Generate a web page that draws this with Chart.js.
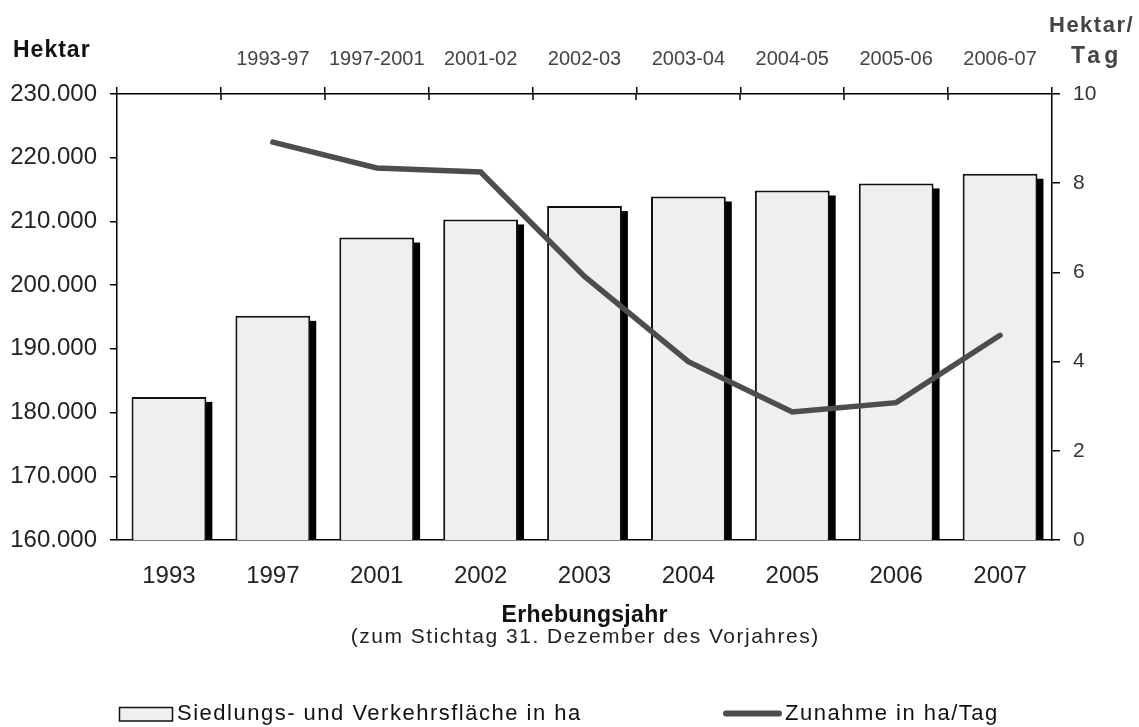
<!DOCTYPE html>
<html>
<head>
    <title>Siedlungs- und Verkehrsfläche</title>
    <script src="https://cdn.jsdelivr.net/npm/chart.js"></script>
    <style>
        body {
            margin: 0;
            background-color: #fff;
        }
    </style>
</head>
<body>
    <canvas id="chart" width="1139" height="727"></canvas>

    <script>
        // Erhebungsjahre (unten) und Zeiträume (oben)
        const years = ['1993', '1997', '2001', '2002', '2003', '2004', '2005', '2006', '2007'];
        const periods = ['', '1993-97', '1997-2001', '2001-02', '2002-03', '2003-04', '2004-05', '2005-06', '2006-07'];

        // Siedlungs- und Verkehrsfläche in ha
        const flaeche = [182460, 195180, 207470, 210310, 212410, 213920, 214860, 215960, 217480];
        // Zunahme in ha/Tag (gehört zum Zeitraum über dem jeweiligen Jahr)
        const zunahme = [null, 8.92, 8.34, 8.25, 5.91, 4.0, 2.87, 3.08, 4.59];

        const FONT = '"Liberation Sans", Arial, sans-serif';

        function drawText(ctx, text, x, y, font, color, spacing, align) {
            ctx.save();
            ctx.font = font;
            ctx.fillStyle = color;
            ctx.letterSpacing = spacing + 'px';
            ctx.textBaseline = 'alphabetic';
            let w = ctx.measureText(text).width - spacing;
            if (align === 'center') x -= w / 2;
            ctx.textAlign = 'left';
            ctx.fillText(text, x, y);
            ctx.restore();
        }

        // schwarzer Schatten rechts neben den Säulen
        const barShadow = {
            id: 'barShadow',
            beforeDatasetDraw(chart, args) {
                if (args.index !== 0) return;
                const ctx = chart.ctx;
                const base = chart.scales.y.getPixelForValue(chart.scales.y.min);
                ctx.save();
                ctx.fillStyle = '#000';
                args.meta.data.forEach(bar => {
                    const right = bar.x + bar.width / 2;
                    ctx.fillRect(right - 1, bar.y + 5, 7, base - bar.y - 5);
                });
                ctx.restore();
            }
        };

        // Titel, Achsentitel, Legende, innere Tickstriche oben
        const extras = {
            id: 'extras',
            afterDraw(chart) {
                const ctx = chart.ctx;
                const area = chart.chartArea;
                const x2 = chart.scales.x2;

                ctx.save();
                ctx.strokeStyle = '#000';
                ctx.lineWidth = 1.5;
                const step = x2.getPixelForValue(1) - x2.getPixelForValue(0);
                for (let i = 0; i < periods.length - 1; i++) {
                    const px = Math.round(x2.getPixelForValue(i) + step / 2);
                    ctx.beginPath();
                    ctx.moveTo(px, area.top);
                    ctx.lineTo(px, area.top + 6);
                    ctx.stroke();
                }
                ctx.restore();

                drawText(ctx, 'Hektar', 13, 57, 'bold 23px ' + FONT, '#111', 1);
                drawText(ctx, 'Hektar/', 1049, 32, 'bold 22px ' + FONT, '#444', 1.5);
                drawText(ctx, 'Tag', 1071, 63, 'bold 23px ' + FONT, '#444', 4);

                const cx = (area.left + area.right) / 2;
                drawText(ctx, 'Erhebungsjahr', cx, 622, 'bold 23px ' + FONT, '#111', 0.3, 'center');
                drawText(ctx, '(zum Stichtag 31. Dezember des Vorjahres)', cx, 643, '21px ' + FONT, '#222', 1.5, 'center');

                // Legende
                const ds = chart.data.datasets;
                ctx.save();
                ctx.fillStyle = '#efefef';
                ctx.strokeStyle = '#111';
                ctx.lineWidth = 1.5;
                ctx.fillRect(119.5, 707.5, 53, 13.5);
                ctx.strokeRect(119.5, 707.5, 53, 13.5);
                ctx.strokeStyle = '#4d4d4d';
                ctx.lineWidth = 6;
                ctx.lineCap = 'round';
                ctx.beginPath();
                ctx.moveTo(726, 713.5);
                ctx.lineTo(779, 713.5);
                ctx.stroke();
                ctx.restore();
                drawText(ctx, ds[0].label, 177, 719.5, '22px ' + FONT, '#111', 1.5);
                drawText(ctx, ds[1].label, 785, 719.5, '22px ' + FONT, '#111', 1.5);
            }
        };

        const ctx = document.getElementById('chart').getContext('2d');
        new Chart(ctx, {
            data: {
                labels: years,
                datasets: [{
                    type: 'bar',
                    label: 'Siedlungs- und Verkehrsfläche in ha',
                    data: flaeche,
                    yAxisID: 'y',
                    xAxisID: 'x',
                    backgroundColor: '#efefef',
                    borderColor: '#111',
                    borderWidth: 2,
                    barPercentage: 0.72,
                    categoryPercentage: 1.0,
                    order: 1
                }, {
                    type: 'line',
                    label: 'Zunahme in ha/Tag',
                    data: zunahme,
                    yAxisID: 'y1',
                    xAxisID: 'x',
                    borderColor: '#4d4d4d',
                    borderWidth: 5.5,
                    borderCapStyle: 'round',
                    pointRadius: 0,
                    tension: 0,
                    order: 0
                }]
            },
            options: {
                responsive: false,
                animation: false,
                devicePixelRatio: 1,
                layout: { padding: 0 },
                plugins: {
                    legend: { display: false },
                    tooltip: { enabled: false }
                },
                scales: {
                    x: {
                        position: 'bottom',
                        offset: true,
                        grid: { display: false, drawTicks: false },
                        border: { display: true, color: '#000', width: 1.5 },
                        ticks: { color: '#222', font: { family: FONT, size: 24 }, padding: 22, maxRotation: 0 },
                        afterFit: s => { s.height = 187; }
                    },
                    x2: {
                        type: 'category',
                        labels: periods,
                        position: 'top',
                        offset: true,
                        grid: { offset: true, drawOnChartArea: false, tickLength: 7, color: '#000', lineWidth: 1.5 },
                        border: { display: true, color: '#000', width: 1.5 },
                        ticks: { color: '#444', font: { family: FONT, size: 20 }, padding: 15.5, maxRotation: 0, autoSkip: false },
                        afterFit: s => { s.height = 94; }
                    },
                    y: {
                        position: 'left',
                        min: 160000,
                        max: 230000,
                        grid: { drawOnChartArea: false, tickLength: 7, color: '#000', lineWidth: 1.5 },
                        border: { display: true, color: '#000', width: 1.5 },
                        ticks: {
                            stepSize: 10000,
                            color: '#222',
                            padding: 13,
                            font: { family: FONT, size: 24 },
                            callback: v => v.toLocaleString('de-DE')
                        },
                        afterFit: s => { s.width = 117; }
                    },
                    y1: {
                        position: 'right',
                        min: 0,
                        max: 10,
                        grid: { drawOnChartArea: false, tickLength: 8, color: '#000', lineWidth: 1.5 },
                        border: { display: true, color: '#000', width: 1.5 },
                        ticks: { stepSize: 2, color: '#333', padding: 13, font: { family: FONT, size: 21 } },
                        afterFit: s => { s.width = 87; }
                    }
                }
            },
            plugins: [barShadow, extras]
        });
    </script>
</body>
</html>
